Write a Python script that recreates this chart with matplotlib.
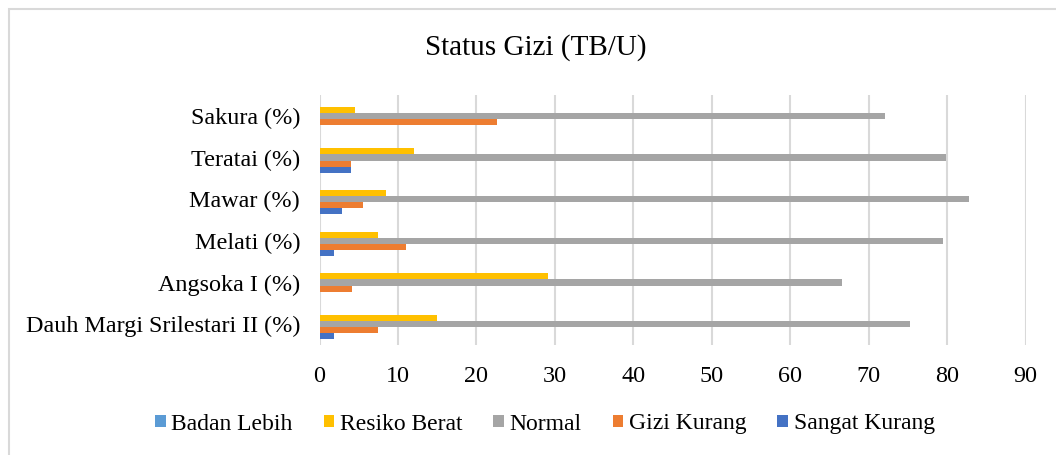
import matplotlib
matplotlib.use('Agg')
import matplotlib.pyplot as plt
import numpy as np
from matplotlib.patches import Rectangle

# data (percent)
categories = ["Dauh Margi Srilestari II (%)", "Angsoka I (%)", "Melati (%)",
              "Mawar (%)", "Teratai (%)", "Sakura (%)"]
sangat_kurang = [1.8, 0.0, 1.8, 2.9, 4.0, 0.0]
gizi_kurang = [7.5, 4.2, 11.0, 5.6, 4.0, 22.6]
normal = [75.3, 66.6, 79.5, 82.8, 79.9, 72.1]
resiko_berat = [15.0, 29.1, 7.4, 8.5, 12.0, 4.5]
badan_lebih = [0.0, 0.0, 0.0, 0.0, 0.0, 0.0]
x_ticks = [0, 10, 20, 30, 40, 50, 60, 70, 80, 90]

series = [
    ("Sangat Kurang", sangat_kurang, "#4472C4"),
    ("Gizi Kurang", gizi_kurang, "#ED7D31"),
    ("Normal", normal, "#A5A5A5"),
    ("Resiko Berat", resiko_berat, "#FFC000"),
    ("Badan Lebih", badan_lebih, "#5B9BD5"),
]

serif = ['Liberation Serif', 'DejaVu Serif']
plt.rcParams['font.family'] = serif

fig = plt.figure(figsize=(10.56, 4.55), dpi=100)
ax = fig.add_axes([319.5 / 1056, 1 - 345 / 455, (1025.7 - 319.5) / 1056, 250 / 455])

# chart border like the Excel chart area
fig.patches.append(Rectangle((8.5 / 1056, -0.05), 1.1, 1 - 8.5 / 455 + 0.05,
                             transform=fig.transFigure, fill=False,
                             edgecolor="#d9d9d9", linewidth=1.5))

y = np.arange(len(categories))
h = 1 / (len(series) + 1.82)
for i, (name, vals, color) in enumerate(series):
    off = (i - (len(series) - 1) / 2) * h
    ax.barh(y + off, vals, height=h, color=color, label=name, zorder=3)

ax.set_xlim(0, 90)
ax.set_ylim(-0.5, len(categories) - 0.5)
ax.set_xticks(x_ticks)
ax.set_yticks(y)
ax.set_yticklabels(categories)
ax.tick_params(axis='both', length=0, labelsize=17.4, colors='black')
ax.tick_params(axis='x', pad=15)
ax.tick_params(axis='y', pad=14)
ax.grid(axis='x', color='#d9d9d9', linewidth=1.5, zorder=0)
for s in ax.spines.values():
    s.set_visible(False)

fig.text(536 / 1056, 1 - 48 / 455, "Status Gizi (TB/U)", ha='center', va='center',
         fontsize=21)

handles, labels = ax.get_legend_handles_labels()
leg = fig.legend(handles[::-1], labels[::-1], loc='center', bbox_to_anchor=(545 / 1056, 1 - 424 / 455),
                 ncol=5, frameon=False, fontsize=17,
                 handlelength=0.45, handleheight=0.45, handletextpad=0.25, columnspacing=1.3)
for t in leg.get_texts():
    t.set_fontfamily(serif)
    t.set_fontsize(17)

fig.savefig("out.png", dpi=100)
